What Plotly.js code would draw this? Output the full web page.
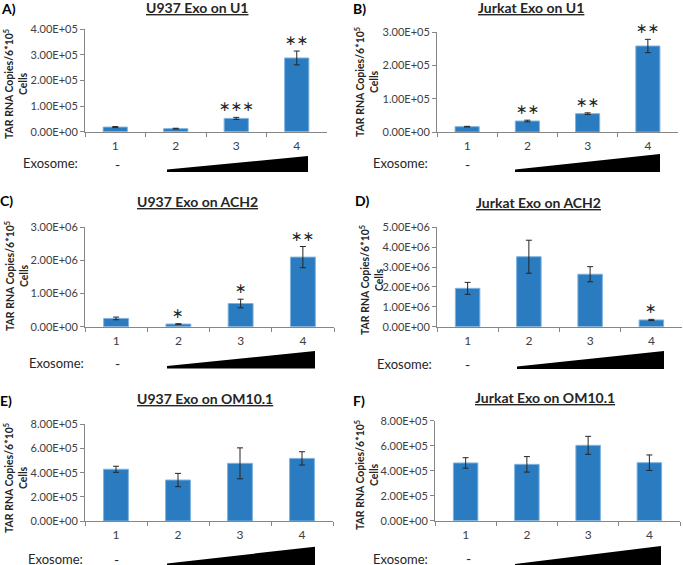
<!DOCTYPE html>
<html>
<head>
<meta charset="utf-8">
<script src="https://cdn.plot.ly/plotly-3.0.1.min.js"></script>
<style>
  html, body { margin: 0; padding: 0; background: #fff; }
  #chart { width: 683px; height: 565px; }
</style>
</head>
<body>
<div id="chart"></div>
<script>
// lanes 1..4 (exosome dose)
const lanes = ["1", "2", "3", "4"];

// A) U937 Exo on U1
const u937U1 = [1.8e4, 1.2e4, 5.2e4, 2.88e5];
const u937U1Err = [2e3, 1.5e3, 4e3, 2.7e4];
const u937U1Stars = ["", "", "***", "**"];
const u937U1Ticks = ["0.00E+00", "1.00E+05", "2.00E+05", "3.00E+05", "4.00E+05"];

// B) Jurkat Exo on U1
const jurkatU1 = [1.6e4, 3.3e4, 5.5e4, 2.58e5];
const jurkatU1Err = [1e3, 2.5e3, 2.5e3, 2e4];
const jurkatU1Stars = ["", "**", "**", "**"];
const jurkatU1Ticks = ["0.00E+00", "1.00E+05", "2.00E+05", "3.00E+05"];

// C) U937 Exo on ACH2
const u937ACH2 = [2.5e5, 8e4, 7e5, 2.1e6];
const u937ACH2Err = [4e4, 1e4, 1.3e5, 3.2e5];
const u937ACH2Stars = ["", "*", "*", "**"];
const u937ACH2Ticks = ["0.00E+00", "1.00E+06", "2.00E+06", "3.00E+06"];

// D) Jurkat Exo on ACH2
const jurkatACH2 = [1.93e6, 3.52e6, 2.64e6, 3.4e5];
const jurkatACH2Err = [3e5, 8.3e5, 3.8e5, 3e4];
const jurkatACH2Stars = ["", "", "", "*"];
const jurkatACH2Ticks = ["0.00E+00", "1.00E+06", "2.00E+06", "3.00E+06", "4.00E+06", "5.00E+06"];

// E) U937 Exo on OM10.1
const u937OM = [4.28e5, 3.39e5, 4.77e5, 5.18e5];
const u937OMErr = [2.5e4, 5.5e4, 1.28e5, 5.5e4];
const u937OMStars = ["", "", "", ""];
const u937OMTicks = ["0.00E+00", "2.00E+05", "4.00E+05", "6.00E+05", "8.00E+05"];

// F) Jurkat Exo on OM10.1
const jurkatOM = [4.62e5, 4.51e5, 6.03e5, 4.64e5];
const jurkatOMErr = [4.2e4, 6.2e4, 7.2e4, 6.2e4];
const jurkatOMStars = ["", "", "", ""];
const jurkatOMTicks = ["0.00E+00", "2.00E+05", "4.00E+05", "6.00E+05", "8.00E+05"];

const W = 683, H = 565;
const px = x => x / W;
const py = y => 1 - y / H;

const FONT = "Lato, 'Open Sans', sans-serif";
const BAR = "#2a7bbf";
const AXIS = "#868686";

// panel placement in pixels; tri = [left x, right x, top y, bottom y, tip y]
const panels = [
  { letter: "A", title: "U937 Exo on U1", vals: u937U1, errs: u937U1Err, stars: u937U1Stars, ticks: u937U1Ticks,
    box: [85, 327, 29.3, 131.7], t: [197, 7], l: [8, 8], yt: [15, 84], exo: [50, 163], dash: [117, 164], tri: [167, 308, 156, 172, 169.5] },
  { letter: "B", title: "Jurkat Exo on U1", vals: jurkatU1, errs: jurkatU1Err, stars: jurkatU1Stars, ticks: jurkatU1Ticks,
    box: [437, 678, 32, 132], t: [531, 7], l: [359, 9], yt: [366, 82], exo: [400, 163], dash: [467, 164], tri: [515, 660, 154, 172, 169.5] },
  { letter: "C", title: "U937 Exo on ACH2", vals: u937ACH2, errs: u937ACH2Err, stars: u937ACH2Stars, ticks: u937ACH2Ticks,
    box: [85, 334, 227.3, 326.7], t: [197, 201], l: [6, 200], yt: [16, 276], exo: [56, 363], dash: [117, 363], tri: [167, 315, 351, 368.5, 366] },
  { letter: "D", title: "Jurkat Exo on ACH2", vals: jurkatACH2, errs: jurkatACH2Err, stars: jurkatACH2Stars, ticks: jurkatACH2Ticks,
    box: [437, 682, 227.3, 326.7], t: [538, 202], l: [362, 200], yt: [371, 280], exo: [404, 364], dash: [467, 364], tri: [517, 664, 351, 369, 366.5] },
  { letter: "E", title: "U937 Exo on OM10.1", vals: u937OM, errs: u937OMErr, stars: u937OMStars, ticks: u937OMTicks,
    box: [85, 333, 424.3, 521], t: [205, 398], l: [6, 401], yt: [15, 478], exo: [55, 559], dash: [116, 559], tri: [167, 315, 546.7, 567, 563.5] },
  { letter: "F", title: "Jurkat Exo on OM10.1", vals: jurkatOM, errs: jurkatOMErr, stars: jurkatOMStars, ticks: jurkatOMTicks,
    box: [435, 680, 420.7, 520.7], t: [545, 397], l: [359, 401], yt: [366, 475], exo: [400, 559], dash: [468, 558], tri: [515, 661, 546, 567, 564] },
];

const traces = [];
const annotations = [];
const shapes = [];
const layout = {
  width: W,
  height: H,
  margin: { l: 0, r: 0, t: 0, b: 0 },
  paper_bgcolor: "#ffffff",
  plot_bgcolor: "#ffffff",
  showlegend: false,
  bargap: 0.6,
  font: { family: FONT, color: "#404040" },
};

panels.forEach((p, i) => {
  const n = i === 0 ? "" : String(i + 1);
  const xa = "x" + n, ya = "y" + n;
  const tickvals = p.ticks.map(Number);

  traces.push({
    type: "bar",
    x: lanes,
    y: p.vals,
    xaxis: xa,
    yaxis: ya,
    marker: { color: BAR, line: { color: "#7fb2e0", width: 1 } },
    error_y: { type: "data", array: p.errs, visible: true, color: "#262626", thickness: 1, width: 3 },
    hoverinfo: "x+y",
  });

  layout["xaxis" + n] = {
    domain: [px(p.box[0]), px(p.box[1])],
    anchor: ya,
    type: "category",
    showline: true,
    linecolor: AXIS,
    linewidth: 1,
    ticks: "outside",
    tickson: "boundaries",
    ticklen: 4,
    tickcolor: AXIS,
    ticklabelstandoff: 3,
    showgrid: false,
    zeroline: false,
    tickfont: { family: FONT, size: 12, color: "#404040" },
    fixedrange: true,
  };
  layout["yaxis" + n] = {
    domain: [py(p.box[3]), py(p.box[2])],
    anchor: xa,
    range: [0, tickvals[tickvals.length - 1]],
    tickvals: tickvals,
    ticktext: p.ticks,
    showline: true,
    linecolor: AXIS,
    linewidth: 1,
    ticks: "outside",
    ticklen: 4,
    tickcolor: AXIS,
    showgrid: false,
    zeroline: false,
    tickfont: { family: FONT, size: 11, color: "#404040" },
    fixedrange: true,
  };

  // significance stars above error bars
  p.stars.forEach((s, k) => {
    if (!s) return;
    annotations.push({
      xref: xa, yref: ya, x: k, y: p.vals[k] + p.errs[k],
      text: s.replace(/\*/g, "\u2217"),
      showarrow: false, yanchor: "bottom", yshift: 1,
      font: { family: "DejaVu Sans", size: 14, color: "#262626" },
    });
  });

  // panel title (underlined), letter, y title
  annotations.push({
    xref: "paper", yref: "paper", x: px(p.t[0]), y: py(p.t[1]),
    text: "<b><u>" + p.title + "</u></b>", showarrow: false,
    xanchor: "center", yanchor: "middle",
    font: { family: FONT, size: 14, color: "#262626" },
  });
  annotations.push({
    xref: "paper", yref: "paper", x: px(p.l[0]), y: py(p.l[1]),
    text: "<b>" + p.letter + ")</b>", showarrow: false,
    xanchor: "center", yanchor: "middle",
    font: { family: FONT, size: 14, color: "#000" },
  });
  annotations.push({
    xref: "paper", yref: "paper", x: px(p.yt[0]), y: py(p.yt[1]),
    text: "<b>TAR RNA Copies/6*10<sup>5</sup><br>Cells</b>", showarrow: false,
    textangle: -90, xanchor: "center", yanchor: "middle",
    font: { family: FONT, size: 10.5, color: "#262626" },
  });

  // exosome dose row
  annotations.push({
    xref: "paper", yref: "paper", x: px(p.exo[0]), y: py(p.exo[1]),
    text: "Exosome:", showarrow: false, xanchor: "center", yanchor: "middle",
    font: { family: FONT, size: 13, color: "#262626" },
  });
  annotations.push({
    xref: "paper", yref: "paper", x: px(p.dash[0]), y: py(p.dash[1]),
    text: "-", showarrow: false, xanchor: "center", yanchor: "middle",
    font: { family: FONT, size: 14, color: "#262626" },
  });
  const [tx0, tx1, ttop, tbot, ttip] = p.tri;
  shapes.push({
    type: "path", xref: "paper", yref: "paper",
    path: `M ${px(tx0)} ${py(tbot)} L ${px(tx0)} ${py(ttip)} L ${px(tx1)} ${py(ttop)} L ${px(tx1)} ${py(tbot)} Z`,
    fillcolor: "#000", line: { width: 0 },
  });
});

layout.annotations = annotations;
layout.shapes = shapes;

Plotly.newPlot("chart", traces, layout, { displayModeBar: false, staticPlot: true });
</script>
</body>
</html>
